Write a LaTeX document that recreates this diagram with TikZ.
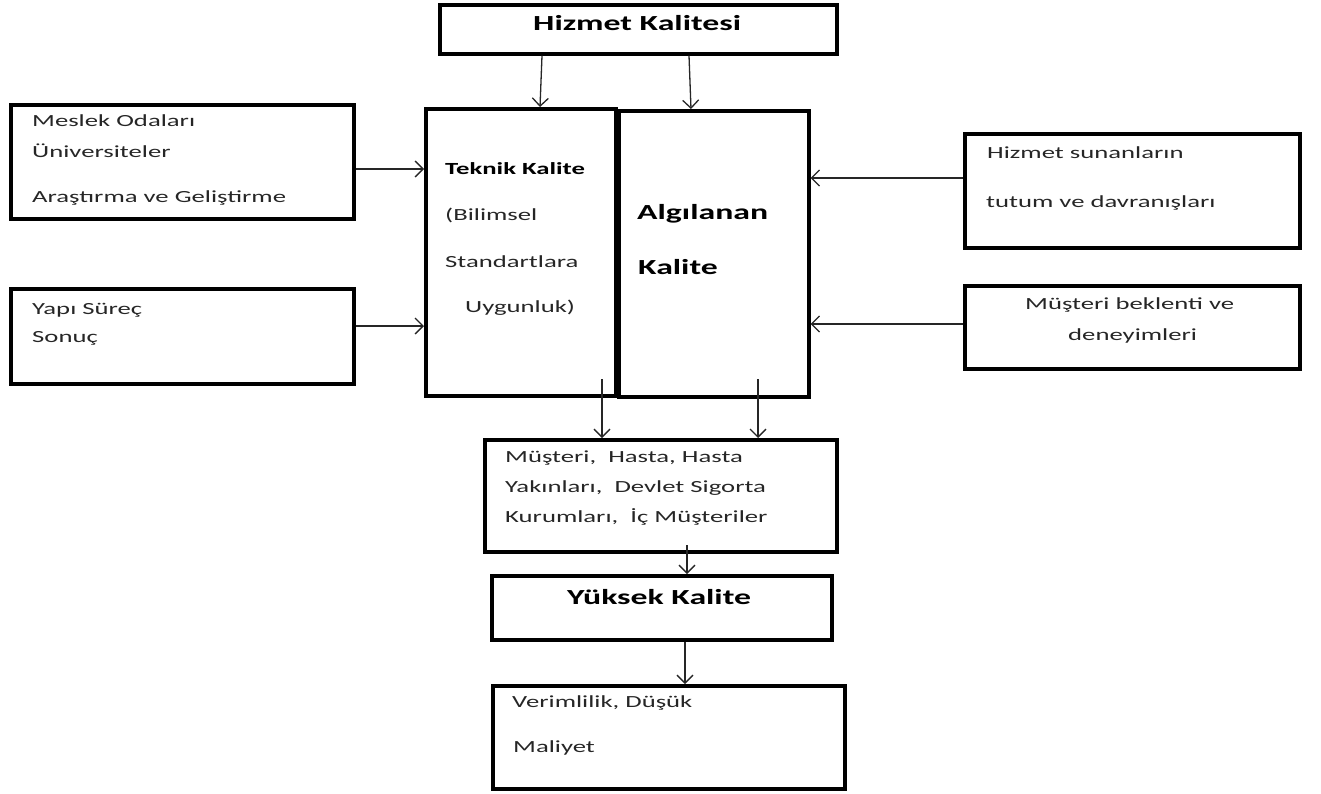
\documentclass[tikz,border=0pt]{standalone}
\usepackage{fontspec}
\setmainfont{Carlito}[FakeStretch=1.57]
\usetikzlibrary{arrows.meta}
\begin{document}
\begin{tikzpicture}[x=1pt,y=-1pt,
  box/.style={draw=black, line width=3.6pt, inner sep=0pt, anchor=north west},
  lbl/.style={anchor=base west, inner sep=0pt, text=black!85, font=\fontsize{17}{20}\selectfont},
  blbl/.style={lbl, text=black, font=\fontsize{17}{20}\selectfont\bfseries},
  big/.style={lbl, text=black, font=\fontsize{21.5}{25}\selectfont\bfseries},
  link/.style={line width=1.3pt, draw=black!85, -{Straight Barb[length=8pt,width=16pt,line width=1.3pt]}}]
\useasboundingbox (0,0) rectangle (1321,793);

% boxes
\node[box, minimum width=397pt, minimum height=49pt]  (hk) at (438,3) {};
\node[box, minimum width=190pt, minimum height=287pt] (tk) at (424,107) {};
\node[box, minimum width=190pt, minimum height=286pt] (ak) at (617,109) {};
\node[box, minimum width=343pt, minimum height=114pt] (mo) at (9,103) {};
\node[box, minimum width=343pt, minimum height=95pt]  (ys) at (9,287) {};
\node[box, minimum width=335pt, minimum height=114pt] (hs) at (963,132) {};
\node[box, minimum width=335pt, minimum height=83pt]  (mb) at (963,284) {};
\node[box, minimum width=352pt, minimum height=112pt] (mu) at (483,438) {};
\node[box, minimum width=340pt, minimum height=64pt]  (yk) at (490,574) {};
\node[box, minimum width=352pt, minimum height=103pt] (vd) at (491,684) {};

% labels
\node[big]  (t-hk)  at (533,30)  {Hizmet Kalitesi};
\node[lbl]  (t-mo1) at (32,126)  {Meslek Odaları};
\node[lbl]  (t-mo2) at (32,157)  {Üniversiteler};
\node[lbl]  (t-mo3) at (32,202)  {Araştırma ve Geliştirme};
\node[lbl]  (t-ys1) at (32,314)  {Yapı Süreç};
\node[lbl]  (t-ys2) at (32,342)  {Sonuç};
\node[blbl] (t-tk1) at (445,174) {Teknik Kalite};
\node[lbl]  (t-tk2) at (445,220) {(Bilimsel};
\node[lbl]  (t-tk3) at (445,267) {Standartlara};
\node[lbl]  (t-tk4) at (465,312) {Uygunluk)};
\node[big]  (t-ak1) at (637,219) {Algılanan};
\node[big]  (t-ak2) at (638,274) {Kalite};
\node[lbl]  (t-hs1) at (987,158) {Hizmet sunanların};
\node[lbl]  (t-hs2) at (986,207) {tutum ve davranışları};
\node[lbl]  (t-mb1) at (1025,309) {Müşteri beklenti ve};
\node[lbl]  (t-mb2) at (1068,340) {deneyimleri};
\node[lbl]  (t-mu1) at (505,462) {Müşteri,~ Hasta, Hasta};
\node[lbl]  (t-mu2) at (505,492) {Yakınları,~ Devlet Sigorta};
\node[lbl]  (t-mu3) at (505,522) {Kurumları,~ İç Müşteriler};
\node[big]  (t-yk)  at (567,604) {Yüksek Kalite};
\node[lbl]  (t-vd1) at (512,707) {Verimlilik, Düşük};
\node[lbl]  (t-vd2) at (513,752) {Maliyet};

% connector levels
\coordinate (r1) at (0,169);
\coordinate (r2) at (0,326);
\coordinate (r3) at (0,178);
\coordinate (r4) at (0,324);
\coordinate (c1) at (602,379);
\coordinate (c2) at (758,379);
\coordinate (c3) at (687,545);
\coordinate (c4) at (685,0);

% connectors
\draw[link] ([xshift=104pt]hk.south west) -- ([xshift=116pt]tk.north west);
\draw[link] ([xshift=251pt]hk.south west) -- ([xshift=74pt]ak.north west);
\draw[link] (mo.east |- r1) -- (tk.west |- r1);
\draw[link] (ys.east |- r2) -- (tk.west |- r2);
\draw[link] (hs.west |- r3) -- (ak.east |- r3);
\draw[link] (mb.west |- r4) -- (ak.east |- r4);
\draw[link] (c1) -- (c1 |- mu.north);
\draw[link] (c2) -- (c2 |- mu.north);
\draw[link] (c3) -- (c3 |- yk.north);
\draw[link] (c4 |- yk.south) -- (c4 |- vd.north);
\end{tikzpicture}
\end{document}
